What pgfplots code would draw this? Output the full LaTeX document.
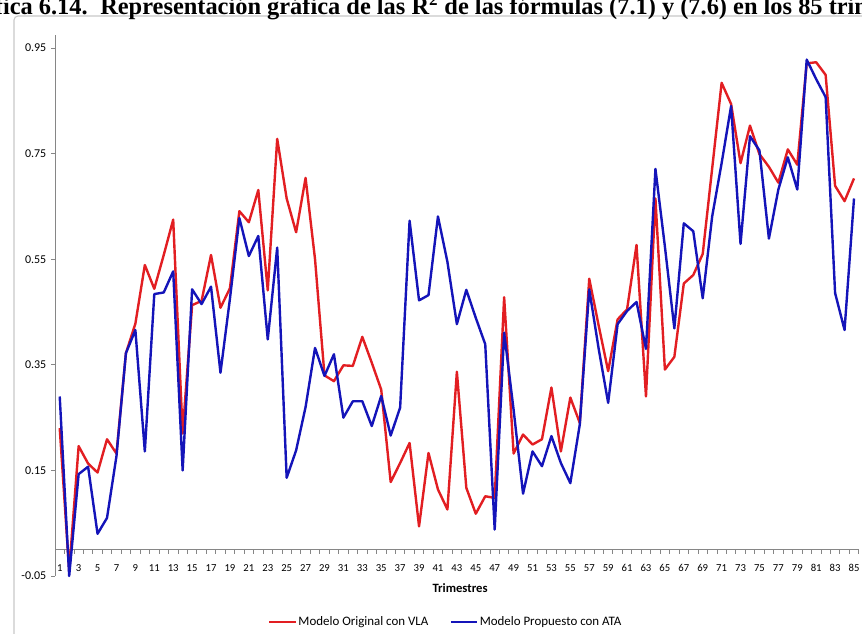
\documentclass[border=0pt]{standalone}
\usepackage{pgfplots}
\pgfplotsset{compat=1.18}
\usepackage{pgfplotstable}
\usepackage{fontspec}
\setmainfont{Carlito}
\newfontfamily\titlefont{Liberation Serif}

\definecolor{rojo}{RGB}{226,30,34}
\definecolor{azul}{RGB}{20,20,185}
\definecolor{ejes}{RGB}{134,134,134}
\definecolor{marco}{RGB}{200,200,200}

% R2 por trimestre: VLA (modelo original), ATA (modelo propuesto)
\pgfplotstableread{
t vla ata
1 0.230 0.290
2 -0.040 -0.050
3 0.196 0.143
4 0.163 0.157
5 0.146 0.030
6 0.209 0.060
7 0.182 0.177
8 0.372 0.372
9 0.428 0.416
10 0.539 0.186
11 0.494 0.484
12 0.558 0.487
13 0.625 0.527
14 0.220 0.150
15 0.463 0.493
16 0.471 0.465
17 0.558 0.498
18 0.458 0.335
19 0.495 0.475
20 0.641 0.628
21 0.620 0.556
22 0.681 0.594
23 0.491 0.398
24 0.778 0.572
25 0.665 0.136
26 0.601 0.188
27 0.704 0.270
28 0.550 0.382
29 0.330 0.329
30 0.319 0.370
31 0.349 0.250
32 0.348 0.281
33 0.403 0.281
34 0.354 0.234
35 0.303 0.291
36 0.128 0.216
37 0.164 0.269
38 0.202 0.623
39 0.044 0.472
40 0.183 0.482
41 0.114 0.631
42 0.076 0.545
43 0.337 0.427
44 0.117 0.492
45 0.068 0.439
46 0.101 0.389
47 0.098 0.038
48 0.478 0.411
49 0.182 0.265
50 0.218 0.106
51 0.199 0.186
52 0.209 0.158
53 0.307 0.215
54 0.186 0.164
55 0.288 0.126
56 0.240 0.237
57 0.513 0.493
58 0.424 0.380
59 0.338 0.278
60 0.436 0.427
61 0.455 0.452
62 0.577 0.469
63 0.290 0.380
64 0.665 0.721
65 0.341 0.574
66 0.365 0.419
67 0.504 0.618
68 0.520 0.603
69 0.560 0.476
70 0.722 0.631
71 0.884 0.732
72 0.844 0.840
73 0.732 0.579
74 0.803 0.783
75 0.749 0.756
76 0.725 0.589
77 0.695 0.682
78 0.758 0.743
79 0.729 0.682
80 0.921 0.928
81 0.923 0.891
82 0.899 0.857
83 0.689 0.486
84 0.660 0.416
85 0.703 0.665
}\datos

\begin{document}
\begin{tikzpicture}
% marco del grafico (se sale por la derecha y por abajo)
\draw[marco, line width=0.8pt, rounded corners=3pt] (10.5pt,-12pt) rectangle (665pt,-490pt);

% titulo, cortado por los bordes como en el original
\node[anchor=base east, inner sep=0pt, font=\titlefont\bfseries\fontsize{18.3}{21}\selectfont]
  at (66pt,-10.5pt) {Gráfica 6.14.};
\node[anchor=base west, inner sep=0pt, font=\titlefont\bfseries\fontsize{18.3}{21}\selectfont]
  at (75pt,-10.5pt) {Representación gráfica de las R\textsuperscript{2} de las fórmulas (7.1) y (7.6) en los 85 trimestres};

\begin{axis}[
    at={(41.25pt,-432pt)}, anchor=south west,
    scale only axis,
    width=602.8pt, height=405.9pt,
    xmin=0.5, xmax=85.5,
    ymin=-0.05, ymax=0.975,
    clip=false,
    axis x line*=middle,
    axis y line*=left,
    axis line style={ejes, line width=0.6pt},
    xtick={1,3,...,85},
    minor xtick={0.5,1.5,...,85.5},
    ytick={-0.05,0.15,0.35,0.55,0.75,0.95},
    tick align=outside,
    major tick length=3pt,
    minor tick length=3pt,
    tick style={ejes, line width=0.6pt},
    major x tick style={draw=none},
    /pgf/number format/assume math mode=true,
    xticklabel style={font=\fontsize{8}{9}\selectfont, yshift=-4.5pt},
    yticklabel style={font=\fontsize{9}{10}\selectfont,
                      /pgf/number format/.cd, fixed, fixed zerofill, precision=2},
    xlabel={Trimestres},
    xlabel style={font=\bfseries\fontsize{9.5}{11}\selectfont,
                  at={(axis description cs:0.504,0)}, anchor=north, yshift=-2pt},
    legend columns=2,
    legend style={at={(0.486,-0.0845)}, anchor=center, draw=none, fill=none,
                  font=\fontsize{9.7}{11}\selectfont,
                  nodes={inner sep=1pt},
                  /tikz/every even column/.append style={column sep=15pt}},
    legend image code/.code={\draw[#1, line width=1.5pt] (0pt,0pt) -- (20pt,0pt);},
    every axis plot/.append style={line width=1.8pt, line join=round, mark=none},
]
\addplot[rojo] table[x=t, y=vla] {\datos};
\addplot[azul] table[x=t, y=ata] {\datos};
\legend{Modelo Original con VLA, Modelo Propuesto con ATA}
\end{axis}

\pgfresetboundingbox
\path[use as bounding box] (0pt,0pt) rectangle (646.5pt,-474.75pt);
\end{tikzpicture}
\end{document}
